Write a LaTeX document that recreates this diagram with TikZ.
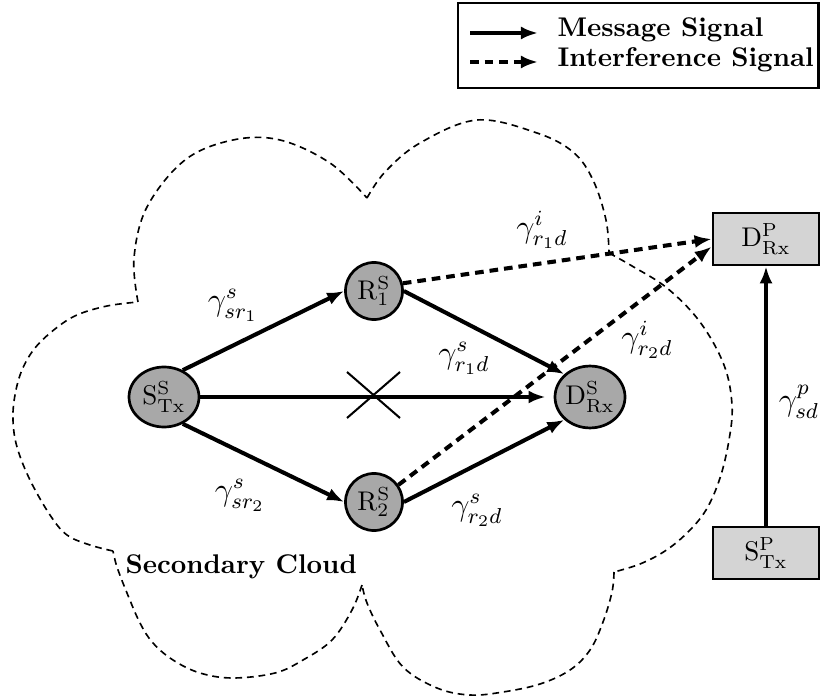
\documentclass[tikz,border=0pt]{standalone}
\usetikzlibrary{arrows.meta,shapes.geometric}
\definecolor{nodegray}{gray}{0.66}
\definecolor{boxgray}{gray}{0.83}
\begin{document}
\begin{tikzpicture}[x=0.37pt,y=-0.37pt,
  arr/.style={line width=1.5pt,-{Latex[length=6.3pt,width=4.8pt]}},
  iarr/.style={arr,dash pattern=on 3.2pt off 2.2pt},
  cloudline/.style={line width=0.6pt,dash pattern=on 2.5pt off 1.8pt},
  enode/.style={ellipse,draw,line width=1pt,fill=nodegray,inner sep=0pt},
  pbox/.style={rectangle,draw,line width=1pt,fill=boxgray,minimum width=39.2pt,minimum height=19.2pt,inner sep=0pt},
  lab/.style={font=\large,inner sep=0pt},
  txt/.style={font=\bfseries,inner sep=0pt,anchor=base west}]
\useasboundingbox (0,0) rectangle (820,697);

% cloud
\draw[cloudline] plot[smooth,tension=0.6] coordinates {(138,302) (134,258) (147,207) (185,160) (233,140) (280,140) (330,163) (367,198)};
\draw[cloudline] plot[smooth,tension=0.6] coordinates {(367,198) (385,172) (420,143) (477,120) (537,133) (573,152) (593,180) (606,220) (609,253)};
\draw[cloudline] plot[smooth,tension=0.6] coordinates {(609,253) (632,266) (667,288) (700,322) (724,365) (732,405) (729,440) (720,478) (706,510) (687,533) (665,551) (640,564) (614,572)};
\draw[cloudline] plot[smooth,tension=0.6] coordinates {(614,572) (612,592) (603,622) (590,650) (570,670) (540,684) (503,692) (470,695) (437,688) (403,667) (380,630) (367,603) (362,585)};
\draw[cloudline] plot[smooth,tension=0.6] coordinates {(362,585) (352,610) (332,640) (303,660) (275,673) (233,678) (200,673) (173,660) (153,643) (140,623) (127,593) (117,567) (113,551)};
\draw[cloudline] plot[smooth,tension=0.6] coordinates {(113,551) (90,545) (67,535) (50,515) (30,480) (17,447) (13,420) (15,395) (22,370) (35,348) (55,329) (77,315) (107,306) (138,302)};
\node[txt] (cloudtext) at (125,573) {Secondary Cloud};

% legend
\node[draw,line width=1.1pt,minimum width=133.2pt,minimum height=31.45pt,inner sep=0pt] (legend) at (638,45.5) {};
\coordinate (m1) at (470,33);
\coordinate (m2) at (538,33);
\coordinate (i1) at (470,62);
\coordinate (i2) at (538,62);
\draw[arr] (m1) -- (m2);
\draw[iarr] (i1) -- (i2);
\node[txt] (mtext) at (557,37) {Message Signal};
\node[txt] (itext) at (557,67) {Interference Signal};

% nodes
\node[enode,minimum width=25.9pt,minimum height=22.2pt] (S) at (164,397) {$\mathrm{S}^{\mathrm{S}}_{\mathrm{Tx}}$};
\node[enode,minimum width=21.1pt,minimum height=21.1pt] (R1) at (374,291) {$\mathrm{R}^{\mathrm{S}}_{1}$};
\node[enode,minimum width=21.1pt,minimum height=21.1pt] (R2) at (374,502) {$\mathrm{R}^{\mathrm{S}}_{2}$};
\node[enode,minimum width=25.9pt,minimum height=22.9pt] (D) at (590,397) {$\mathrm{D}^{\mathrm{S}}_{\mathrm{Rx}}$};
\node[pbox] (DP) at (766,239) {$\mathrm{D}^{\mathrm{P}}_{\mathrm{Rx}}$};
\node[pbox] (SP) at (766,553) {$\mathrm{S}^{\mathrm{P}}_{\mathrm{Tx}}$};

% connectors
\draw[arr] (S.55) -- (R1.west);
\draw[arr] (S.-55) -- (R2.west);
\draw[arr,shorten >=3pt] (S.east) -- (D.west);
\draw[arr] (R1.east) -- (D.north west);
\draw[arr] (R2.east) -- (D.south west);
\draw[iarr] (R1.15) -- (DP.west);
\draw[iarr] (R2.35) -- (DP.188);
\draw[arr] (SP.north) -- (DP.south);

% cross
\draw[line width=0.75pt] (347,372) -- (400,418) (347,418) -- (400,372);

% labels
\node[lab] (lsr1) at (233,305) {$\gamma^{s}_{sr_1}$};
\node[lab] (lsr2) at (240,495) {$\gamma^{s}_{sr_2}$};
\node[lab] (lr1d) at (464,358) {$\gamma^{s}_{r_1d}$};
\node[lab] (lr2d) at (477,510) {$\gamma^{s}_{r_2d}$};
\node[lab] (li1) at (542,230) {$\gamma^{i}_{r_1d}$};
\node[lab] (li2) at (647,340) {$\gamma^{i}_{r_2d}$};
\node[lab] (lsd) at (799,402) {$\gamma^{p}_{sd}$};
\end{tikzpicture}
\end{document}
